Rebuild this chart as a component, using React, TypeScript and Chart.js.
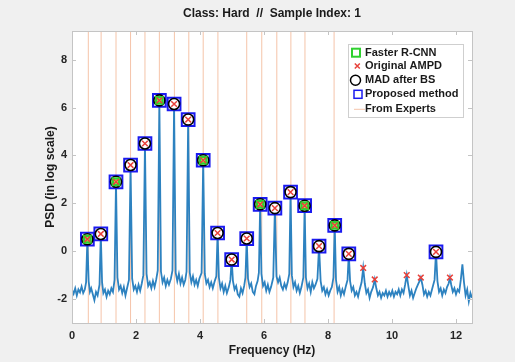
import React, { useEffect, useRef } from "react";
import { Chart, registerables } from "chart.js";
Chart.register(...registerables);

const titleText = "Class: Hard  //  Sample Index: 1";
const xAxisTitle = "Frequency (Hz)";
const yAxisTitle = "PSD (in log scale)";
const xTicks = [0, 2, 4, 6, 8, 10, 12];
const yTicks = [-2, 0, 2, 4, 6, 8];
const xMin = 0;
const xMax = 12.5;
const yMin = -3;
const yMax = 9.2;

// PSD trace (frequency Hz, log PSD)
const psdTrace: [number, number][] = [
  [0.0, -1.62], [0.05, -1.78], [0.1, -1.55], [0.15, -1.85], [0.2, -1.6], [0.25, -1.72], [0.3, -1.48], [0.35, -1.75], [0.4, -1.6], [0.44, -1.3],
  [0.48, 0.5], [0.52, -1.25], [0.56, -1.7], [0.6, -1.55], [0.65, -1.8], [0.7, -2.05], [0.75, -1.7], [0.8, -1.85], [0.86, -1.4], [0.9, 0.72],
  [0.94, -1.3], [0.98, -1.75], [1.03, -1.6], [1.08, -1.9], [1.13, -1.65], [1.18, -1.8], [1.23, -1.55], [1.28, -1.7], [1.33, -1.2], [1.375, 2.9],
  [1.42, -1.1], [1.47, -1.6], [1.52, -1.45], [1.57, -1.75], [1.62, -1.5], [1.67, -1.85], [1.72, -1.55], [1.78, -1.2], [1.83, 3.6], [1.88, -1.15],
  [1.93, -1.6], [1.98, -1.45], [2.03, -1.7], [2.08, -1.4], [2.13, -1.65], [2.18, -1.35], [2.23, -1.0], [2.28, 4.5], [2.33, -0.95], [2.38, -1.45],
  [2.43, -1.3], [2.48, -1.55], [2.53, -1.25], [2.58, -1.5], [2.63, -1.2], [2.68, -0.8], [2.73, 6.3], [2.78, -0.85], [2.83, -1.3], [2.88, -1.1],
  [2.93, -1.45], [2.98, -1.2], [3.03, -1.4], [3.09, -1.15], [3.14, -0.8], [3.19, 6.15], [3.24, -0.9], [3.29, -1.25], [3.34, -0.95], [3.39, -1.35],
  [3.44, -1.1], [3.49, -1.4], [3.54, -1.2], [3.58, -0.85], [3.63, 5.5], [3.68, -0.9], [3.73, -1.3], [3.78, -1.05], [3.83, -1.4], [3.88, -1.2],
  [3.93, -1.45], [3.98, -1.15], [4.05, -0.9], [4.1, 3.8], [4.15, -0.95], [4.2, -1.35], [4.25, -1.2], [4.3, -1.5], [4.35, -1.3], [4.4, -1.55],
  [4.46, -1.25], [4.51, -1.05], [4.55, 0.76], [4.59, -1.1], [4.64, -1.55], [4.69, -1.35], [4.74, -1.7], [4.79, -1.45], [4.84, -1.75], [4.9, -1.5],
  [4.95, -1.2], [4.99, -0.35], [5.03, -1.25], [5.08, -1.6], [5.13, -1.45], [5.18, -1.8], [5.23, -1.9], [5.28, -1.55], [5.33, -1.75], [5.38, -1.45],
  [5.42, -1.1], [5.46, 0.53], [5.5, -1.15], [5.55, -1.5], [5.6, -1.35], [5.65, -1.7], [5.7, -1.8], [5.75, -1.45], [5.8, -1.25], [5.84, -0.9],
  [5.88, 1.96], [5.92, -0.95], [5.97, -1.45], [6.02, -1.3], [6.07, -1.65], [6.12, -1.4], [6.17, -1.7], [6.22, -1.5], [6.29, -1.1], [6.34, 1.8],
  [6.39, -1.05], [6.44, -1.3], [6.49, -1.1], [6.54, -1.45], [6.59, -1.6], [6.64, -1.35], [6.69, -1.55], [6.74, -1.3], [6.79, -0.95], [6.83, 2.47],
  [6.87, -1.0], [6.92, -1.5], [6.97, -1.3], [7.02, -1.65], [7.07, -1.45], [7.12, -1.75], [7.17, -1.5], [7.23, -1.1], [7.27, 1.9], [7.31, -1.1],
  [7.36, -1.55], [7.41, -1.35], [7.46, -1.7], [7.51, -1.3], [7.56, -1.55], [7.61, -1.4], [7.67, -1.15], [7.72, 0.21], [7.77, -1.25], [7.82, -1.65],
  [7.87, -1.5], [7.92, -1.8], [7.97, -1.6], [8.02, -1.85], [8.07, -1.65], [8.12, -1.5], [8.17, -1.1], [8.21, 1.08], [8.25, -1.2], [8.3, -1.7],
  [8.35, -1.5], [8.4, -1.85], [8.45, -1.6], [8.5, -1.8], [8.56, -1.45], [8.61, -1.2], [8.65, -0.11], [8.69, -1.25], [8.74, -1.65], [8.79, -1.5],
  [8.84, -1.85], [8.89, -1.7], [8.94, -1.9], [8.99, -1.6], [9.05, -1.3], [9.1, -0.7], [9.15, -1.35], [9.2, -1.75], [9.25, -1.6], [9.3, -1.95],
  [9.35, -1.7], [9.41, -1.5], [9.46, -1.18], [9.51, -1.55], [9.56, -1.85], [9.61, -1.7], [9.66, -1.95], [9.71, -1.75], [9.76, -1.85], [9.81, -1.65],
  [9.86, -1.9], [9.91, -1.7], [9.96, -1.85], [10.01, -1.65], [10.06, -1.9], [10.11, -1.7], [10.16, -1.8], [10.21, -1.6], [10.26, -1.85], [10.31, -1.6],
  [10.36, -1.75], [10.41, -1.4], [10.46, -1.0], [10.51, -1.45], [10.56, -1.85], [10.61, -1.65], [10.66, -1.95], [10.71, -1.75], [10.76, -1.55], [10.81, -1.4],
  [10.86, -1.25], [10.9, -1.1], [10.95, -1.4], [11.0, -1.8], [11.05, -1.65], [11.1, -1.9], [11.15, -1.7], [11.2, -1.85], [11.25, -1.6], [11.33, -1.2],
  [11.375, -0.03], [11.42, -1.25], [11.47, -1.7], [11.52, -1.55], [11.57, -1.85], [11.62, -1.6], [11.67, -1.75], [11.72, -1.5], [11.77, -1.35], [11.81, -1.1],
  [11.85, -1.4], [11.9, -1.7], [11.95, -1.55], [12.0, -1.8], [12.05, -1.6], [12.1, -1.7], [12.15, -1.2], [12.2, -0.55], [12.25, -1.3], [12.3, -1.85],
  [12.35, -1.6], [12.4, -2.1], [12.45, -1.75], [12.5, -1.95],
];

// detected peaks
const peakHz = [0.48, 0.9, 1.375, 1.83, 2.28, 2.73, 3.19, 3.63, 4.1, 4.55, 4.99, 5.46, 5.88, 6.34, 6.83, 7.27, 7.72, 8.21, 8.65, 9.1, 9.46, 10.46, 10.9, 11.375, 11.81];
const peakPsd = [0.5, 0.72, 2.9, 3.6, 4.5, 6.3, 6.15, 5.5, 3.8, 0.76, -0.35, 0.53, 1.96, 1.8, 2.47, 1.9, 0.21, 1.08, -0.11, -0.7, -1.18, -1.0, -1.1, -0.03, -1.1];
const ampdIdx = [0, 1, 2, 3, 4, 5, 6, 7, 8, 9, 10, 11, 12, 13, 14, 15, 16, 17, 18, 19, 20, 21, 22, 23, 24];
const madIdx = [0, 1, 2, 3, 4, 5, 6, 7, 8, 9, 10, 11, 12, 13, 14, 15, 16, 17, 18, 23];
const proposedIdx = [0, 1, 2, 3, 4, 5, 6, 7, 8, 9, 10, 11, 12, 13, 14, 15, 16, 17, 18, 23];
const rcnnIdx = [0, 2, 5, 8, 12, 15, 17];

// expert annotations (Hz)
const expertHz = [0.51, 0.91, 1.375, 1.83, 2.28, 2.73, 3.2, 3.65, 4.1, 4.56, 5.46, 5.93, 6.4, 6.84, 7.28, 8.19];

const FONT = "'Liberation Sans', Arial, sans-serif";
const BG = "#f0f0f0";
const FRAME = "#c4c4c4";
const GREEN = "#2fd12f";
const RED = "#e8413a";
const BLUE = "#1a1af0";
const TRACE = "#2d82c0";
const EXPERT = "rgba(241,176,140,0.75)";

const pts = (idx: number[]) => idx.map((i) => ({ x: peakHz[i], y: peakPsd[i] }));

const decorPlugin = {
  id: "decor",
  beforeDraw(chart: any) {
    const { ctx, chartArea: a } = chart;
    ctx.save();
    ctx.fillStyle = BG;
    ctx.fillRect(0, 0, chart.width, chart.height);
    ctx.fillStyle = "#ffffff";
    ctx.fillRect(a.left, a.top, a.right - a.left, a.bottom - a.top);
    ctx.restore();
  },
  afterDraw(chart: any) {
    const { ctx, chartArea: a, scales } = chart;
    ctx.save();
    // frame
    ctx.strokeStyle = FRAME;
    ctx.lineWidth = 1;
    ctx.strokeRect(Math.round(a.left) + 0.5, Math.round(a.top) + 0.5, Math.round(a.right - a.left), Math.round(a.bottom - a.top));
    // inward ticks
    const tl = 4;
    ctx.beginPath();
    for (const v of xTicks) {
      const px = Math.round(scales.x.getPixelForValue(v)) + 0.5;
      ctx.moveTo(px, a.bottom);
      ctx.lineTo(px, a.bottom - tl);
      ctx.moveTo(px, a.top);
      ctx.lineTo(px, a.top + tl);
    }
    for (const v of yTicks) {
      const py = Math.round(scales.y.getPixelForValue(v)) + 0.5;
      ctx.moveTo(a.left, py);
      ctx.lineTo(a.left + tl, py);
      ctx.moveTo(a.right, py);
      ctx.lineTo(a.right - tl, py);
    }
    ctx.stroke();
    // title
    ctx.fillStyle = "#1a1a1a";
    ctx.font = `bold 12px ${FONT}`;
    ctx.textAlign = "center";
    ctx.textBaseline = "middle";
    ctx.fillText(titleText, (a.left + a.right) / 2, 14);

    // legend
    const lx = 348, ly = 44, lw = 115, lh = 73;
    ctx.fillStyle = "#ffffff";
    ctx.fillRect(lx, ly, lw, lh);
    ctx.strokeStyle = "#cfcfcf";
    ctx.lineWidth = 1;
    ctx.strokeRect(lx + 0.5, ly + 0.5, lw, lh);
    const tx = 365;
    const rows = [52.7, 66, 80.3, 94.3, 109.3];
    const labels = ["Faster R-CNN", "Original AMPD", "MAD after BS", "Proposed method", "From Experts"];
    // green square
    ctx.strokeStyle = GREEN;
    ctx.lineWidth = 2;
    ctx.strokeRect(352, rows[0] - 4, 8, 8);
    // red x
    ctx.strokeStyle = RED;
    ctx.lineWidth = 1.5;
    ctx.beginPath();
    ctx.moveTo(357.3 - 2.5, rows[1] - 2.5);
    ctx.lineTo(357.3 + 2.5, rows[1] + 2.5);
    ctx.moveTo(357.3 + 2.5, rows[1] - 2.5);
    ctx.lineTo(357.3 - 2.5, rows[1] + 2.5);
    ctx.stroke();
    // black circle
    ctx.strokeStyle = "#000000";
    ctx.lineWidth = 1.5;
    ctx.beginPath();
    ctx.arc(355.5, rows[2], 5, 0, Math.PI * 2);
    ctx.stroke();
    // blue square
    ctx.strokeStyle = BLUE;
    ctx.lineWidth = 1.5;
    ctx.strokeRect(354, rows[3] - 4, 8, 8);
    // expert line
    ctx.strokeStyle = EXPERT;
    ctx.lineWidth = 1;
    ctx.beginPath();
    ctx.moveTo(354, rows[4]);
    ctx.lineTo(365, rows[4]);
    ctx.stroke();
    ctx.fillStyle = "#1a1a1a";
    ctx.font = `bold 11px ${FONT}`;
    ctx.textAlign = "left";
    labels.forEach((t, i) => ctx.fillText(t, tx, rows[i]));
    ctx.restore();
  },
};

export default function App() {
  const ref = useRef<HTMLCanvasElement | null>(null);
  useEffect(() => {
    if (!ref.current) return;
    const expertData: any[] = [];
    expertHz.forEach((f) => {
      expertData.push({ x: f, y: yMin }, { x: f, y: yMax }, { x: f, y: null });
    });
    const chart = new Chart(ref.current, {
      type: "line",
      data: {
        datasets: [
          {
            label: "Original AMPD",
            data: pts(ampdIdx),
            showLine: false,
            pointStyle: "crossRot",
            pointRadius: 4,
            borderColor: RED,
            pointBorderWidth: 1.5,
            order: 0,
          } as any,
          {
            label: "Faster R-CNN",
            data: pts(rcnnIdx),
            showLine: false,
            pointStyle: "rect",
            pointRadius: 4.5,
            borderColor: GREEN,
            backgroundColor: "#d6ef6a",
            pointBorderWidth: 2.5,
            order: 1,
          },
          {
            label: "MAD after BS",
            data: pts(madIdx),
            showLine: false,
            pointStyle: "circle",
            pointRadius: 5.5,
            borderColor: "#000000",
            backgroundColor: "rgba(255,255,255,0)",
            pointBorderWidth: 1.6,
            order: 2,
          },
          {
            label: "Proposed method",
            data: pts(proposedIdx),
            showLine: false,
            pointStyle: "rect",
            pointRadius: 9,
            borderColor: BLUE,
            backgroundColor: "#ffffff",
            pointBorderWidth: 2,
            order: 3,
          },
          {
            label: "PSD",
            data: psdTrace.map(([x, y]) => ({ x, y })),
            borderColor: TRACE,
            borderWidth: 1.8,
            pointRadius: 0,
            tension: 0,
            order: 4,
          },
          {
            label: "From Experts",
            data: expertData,
            borderColor: EXPERT,
            borderWidth: 1,
            pointRadius: 0,
            spanGaps: false,
            order: 5,
          },
        ],
      },
      options: {
        animation: false,
        responsive: false,
        devicePixelRatio: 1,
        events: [],
        layout: { padding: { top: 31, right: 43, left: 0, bottom: 0 } },
        plugins: { legend: { display: false }, title: { display: false }, tooltip: { enabled: false } },
        scales: {
          x: {
            type: "linear",
            min: xMin,
            max: xMax,
            afterBuildTicks: (s: any) => {
              s.ticks = xTicks.map((v) => ({ value: v }));
            },
            afterFit: (s: any) => {
              s.height = 39;
            },
            grid: { display: false, drawTicks: false },
            border: { display: false },
            ticks: { padding: 6, color: "#262626", font: { family: FONT, size: 11, weight: "bold" }, maxRotation: 0 },
            title: { display: true, text: xAxisTitle, color: "#1a1a1a", font: { family: FONT, size: 12, weight: "bold" }, padding: { top: 0, bottom: 4.4 } },
          },
          y: {
            type: "linear",
            min: yMin,
            max: yMax,
            afterBuildTicks: (s: any) => {
              s.ticks = yTicks.map((v) => ({ value: v }));
            },
            afterFit: (s: any) => {
              s.width = 72;
            },
            grid: { display: false, drawTicks: false },
            border: { display: false },
            ticks: { padding: 5, color: "#262626", font: { family: FONT, size: 11, weight: "bold" } },
            title: { display: true, text: yAxisTitle, color: "#1a1a1a", font: { family: FONT, size: 12, weight: "bold" }, padding: { top: 43, bottom: 0 } },
          },
        },
      },
      plugins: [decorPlugin],
    } as any);
    return () => chart.destroy();
  }, []);
  return (
    <div style={{ position: "absolute", left: 0, top: 0, width: 515, height: 362 }}>
      <canvas ref={ref} width={515} height={362} style={{ width: 515, height: 362, display: "block" }} />
    </div>
  );
}
